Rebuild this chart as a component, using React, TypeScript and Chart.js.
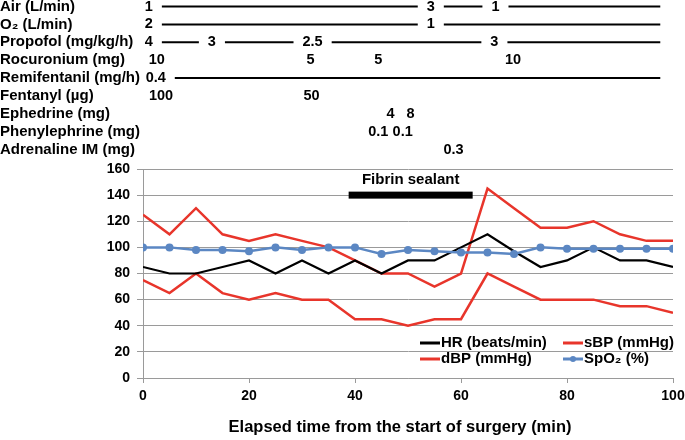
import React, { useEffect, useRef } from 'react';
import { Chart, registerables } from 'chart.js';

Chart.register(...registerables);

// ---- Vital signs (every 5 min) ----
const times = [0, 5, 10, 15, 20, 25, 30, 35, 40, 45, 50, 55, 60, 65, 70, 75, 80, 85, 90, 95, 100];
const hr = [85, 80, 80, 85, 90, 80, 90, 80, 90, 80, 90, 90, 100, 110, 97, 85, 90, 100, 90, 90, 85];
const sbp = [125, 110, 130, 110, 105, 110, 105, 100, 90, 80, 80, 70, 80, 145, 130, 115, 115, 120, 110, 105, 105];
const dbp = [75, 65, 80, 65, 60, 65, 60, 60, 45, 45, 40, 45, 45, 80, 70, 60, 60, 60, 55, 55, 50];
const spo2 = [100, 100, 98, 98, 97, 100, 98, 100, 100, 95, 98, 97, 96, 96, 95, 100, 99, 99, 99, 99, 99];

const xTicks = [0, 20, 40, 60, 80, 100];
const yTicks = [0, 20, 40, 60, 80, 100, 120, 140, 160];

// ---- Fibrin sealant period ----
const fibrinLabel = 'Fibrin sealant';
const fibrinStart = 38.8;
const fibrinEnd = 62.2;
const fibrinLevel = 140;

// ---- Drug / gas annotation rows ----
const rowNames = [
  'Air (L/min)',
  'O\u2082 (L/min)',
  'Propofol (mg/kg/h)',
  'Rocuronium (mg)',
  'Remifentanil (mg/h)',
  'Fentanyl (\u00b5g)',
  'Ephedrine (mg)',
  'Phenylephrine (mg)',
  'Adrenaline IM (mg)',
];
const airValues = ['1', '3', '1'];
const airTimes = [1.1, 54.3, 66.5];
const o2Values = ['2', '1'];
const o2Times = [1.1, 54.3];
const propofolValues = ['4', '3', '2.5', '3'];
const propofolTimes = [1.1, 13, 32, 66.3];
const rocuroniumValues = ['10', '5', '5', '10'];
const rocuroniumTimes = [2.6, 31.6, 44.4, 69.8];
const remifentanilValues = ['0.4'];
const remifentanilTimes = [2.4];
const fentanylValues = ['100', '50'];
const fentanylTimes = [3.4, 31.8];
const ephedrineValues = ['4', '8'];
const ephedrineTimes = [46.7, 50.5];
const phenylephrineValues = ['0.1', '0.1'];
const phenylephrineTimes = [44.4, 49];
const adrenalineValues = ['0.3'];
const adrenalineTimes = [58.6];
const rowContinuous = [true, true, true, false, true, false, false, false, false];
const infusionEnd = 97.6;

const rowValues = [airValues, o2Values, propofolValues, rocuroniumValues, remifentanilValues, fentanylValues, ephedrineValues, phenylephrineValues, adrenalineValues];
const rowTimes = [airTimes, o2Times, propofolTimes, rocuroniumTimes, remifentanilTimes, fentanylTimes, ephedrineTimes, phenylephrineTimes, adrenalineTimes];

const seriesNames = ['HR (beats/min)', 'sBP (mmHg)', 'dBP (mmHg)', 'SpO\u2082 (%)'];
const xTitle = 'Elapsed time from the start of surgery (min)';

const FAMILY = "'Liberation Sans', Arial, Helvetica, sans-serif";
const RED = '#E8352B';
const BLUE = '#5B87C3';
const GRID = '#9a9a9a';

const overlayPlugin = {
  id: 'overlay',
  afterDraw(chart: any) {
    const ctx = chart.ctx as CanvasRenderingContext2D;
    const xs = chart.scales.x;
    const ys = chart.scales.y;
    ctx.save();
    ctx.fillStyle = '#000';
    ctx.strokeStyle = '#000';
    ctx.textBaseline = 'middle';

    // annotation rows
    const rowTop = 6.5;
    const rowStep = 17.9;
    const gap = 9;
    rowNames.forEach((name, r) => {
      const y = rowTop + r * rowStep;
      ctx.font = `bold 15px ${FAMILY}`;
      ctx.textAlign = 'left';
      ctx.fillText(name, 0, y);
      ctx.font = `bold 14.5px ${FAMILY}`;
      ctx.textAlign = 'center';
      const vals = rowValues[r];
      const ts = rowTimes[r];
      const boxes = vals.map((v, i) => {
        const cx = xs.getPixelForValue(ts[i]);
        const w = ctx.measureText(v).width;
        ctx.fillText(v, cx, y);
        return { l: cx - w / 2, r: cx + w / 2 };
      });
      if (rowContinuous[r]) {
        ctx.lineWidth = 2;
        boxes.forEach((b, i) => {
          const x0 = b.r + gap;
          const x1 = i < boxes.length - 1 ? boxes[i + 1].l - gap : xs.getPixelForValue(infusionEnd);
          ctx.beginPath();
          ctx.moveTo(x0, y);
          ctx.lineTo(x1, y);
          ctx.stroke();
        });
      }
    });

    // fibrin sealant bar
    const fx0 = xs.getPixelForValue(fibrinStart);
    const fx1 = xs.getPixelForValue(fibrinEnd);
    const fy = ys.getPixelForValue(fibrinLevel);
    ctx.fillRect(fx0, fy - 3.5, fx1 - fx0, 7);
    ctx.font = `bold 15px ${FAMILY}`;
    ctx.textAlign = 'center';
    ctx.fillText(fibrinLabel, (fx0 + fx1) / 2, fy - 15.5);

    // legend
    const colors = ['#000', RED, RED, BLUE];
    const lx = [420, 563, 420, 563];
    const ly = [343, 343, 359, 359];
    ctx.textAlign = 'left';
    ctx.font = `bold 15px ${FAMILY}`;
    seriesNames.forEach((n, i) => {
      ctx.strokeStyle = colors[i];
      ctx.lineWidth = 3;
      ctx.beginPath();
      ctx.moveTo(lx[i], ly[i]);
      ctx.lineTo(lx[i] + 20, ly[i]);
      ctx.stroke();
      if (i === 3) {
        ctx.fillStyle = BLUE;
        ctx.beginPath();
        ctx.arc(lx[i] + 10, ly[i], 3, 0, Math.PI * 2);
        ctx.fill();
      }
      ctx.fillStyle = '#000';
      ctx.fillText(n, lx[i] + 21, ly[i]);
    });

    // x axis title
    ctx.font = `bold 16.5px ${FAMILY}`;
    ctx.textAlign = 'center';
    ctx.fillText(xTitle, 400, 427);
    ctx.restore();
  },
};

export default function App() {
  const ref = useRef<HTMLCanvasElement>(null);
  useEffect(() => {
    const canvas = ref.current!;
    const mk = (arr: number[]) => times.map((t, i) => ({ x: t, y: arr[i] }));
    const chart = new Chart(canvas, {
      type: 'line',
      data: {
        datasets: [
          { label: seriesNames[3], data: mk(spo2), borderColor: BLUE, backgroundColor: BLUE, borderWidth: 2.5, pointRadius: 4, pointBorderWidth: 0, pointBackgroundColor: BLUE, tension: 0, order: 0 },
          { label: seriesNames[0], data: mk(hr), borderColor: '#000', borderWidth: 2.2, pointRadius: 0, tension: 0, order: 1 },
          { label: seriesNames[1], data: mk(sbp), borderColor: RED, borderWidth: 2.5, pointRadius: 0, tension: 0, order: 2 },
          { label: seriesNames[2], data: mk(dbp), borderColor: RED, borderWidth: 2.5, pointRadius: 0, tension: 0, order: 3 },
        ],
      },
      options: {
        responsive: false,
        animation: false,
        events: [],
        layout: { padding: { top: 169, right: 12, bottom: 0, left: 0 } },
        plugins: { legend: { display: false }, tooltip: { enabled: false }, title: { display: false } },
        scales: {
          x: {
            type: 'linear',
            min: 0,
            max: 100,
            afterBuildTicks: (axis: any) => { axis.ticks = xTicks.map((v) => ({ value: v })); },
            afterFit: (axis: any) => { axis.height = 62; axis.paddingRight = 0; axis.paddingLeft = 0; },
            ticks: { color: '#000', font: { family: FAMILY, size: 14, weight: 'bold' }, padding: 5, maxRotation: 0 },
            grid: { drawOnChartArea: false, drawTicks: true, tickLength: 5, color: GRID },
            border: { color: GRID, width: 1 },
          },
          y: {
            min: 0,
            max: 160,
            afterBuildTicks: (axis: any) => { axis.ticks = yTicks.map((v) => ({ value: v })); },
            afterFit: (axis: any) => { axis.width = 143; axis.paddingTop = 0; axis.paddingBottom = 0; },
            ticks: { color: '#000', font: { family: FAMILY, size: 14, weight: 'bold' }, padding: 7 },
            grid: { color: GRID, tickLength: 6, lineWidth: 1 },
            border: { color: GRID, width: 1 },
          },
        },
      },
      plugins: [overlayPlugin],
    } as any);
    return () => chart.destroy();
  }, []);
  return (
    <div style={{ position: 'fixed', left: 0, top: 0, width: 685, height: 440, background: '#fff' }}>
      <canvas ref={ref} width={685} height={440} style={{ display: 'block', width: 685, height: 440 }} />
    </div>
  );
}
